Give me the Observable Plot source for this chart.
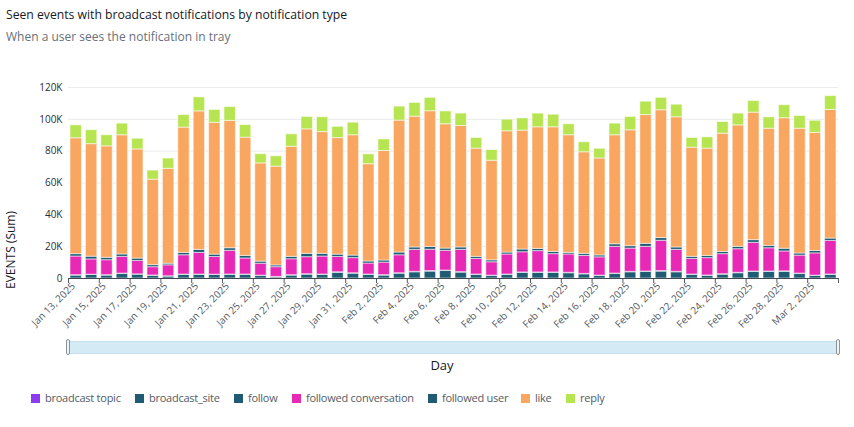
<!DOCTYPE html>
<html>
<head>
<meta charset="utf-8">
<script src="https://cdn.jsdelivr.net/npm/d3@7"></script>
<script src="https://cdn.jsdelivr.net/npm/@observablehq/plot@0.6"></script>
<style>
  html, body { margin: 0; padding: 0; background: #fff; }
  #wrap { position: relative; width: 854px; height: 427px; overflow: hidden; font-family: "Open Sans", "Noto Sans", sans-serif; }
  #title { position: absolute; left: 6px; top: 6px; font-size: 12.2px; color: #16191f; white-space: nowrap; }
  #subtitle { position: absolute; left: 6px; top: 28px; font-size: 12px; color: #687078; white-space: nowrap; }
  #chart { position: absolute; left: 0; top: 55px; }
  #scroll { position: absolute; left: 68px; top: 341px; width: 770px; height: 13px; background: #d4eaf5; border-top: 1px solid #c5e0ee; border-bottom: 1px solid #c5e0ee; box-sizing: border-box; }
  .handle { position: absolute; top: 339px; width: 4px; height: 16px; background: #f2f3f3; border: 1px solid #879596; border-radius: 3px; box-sizing: border-box; }
  #xlabel { position: absolute; left: 0; width: 854px; top: 356px; text-align: center; font-size: 13px; color: #16191f; padding-left: 30px; box-sizing: border-box; }
  .leg { position: absolute; top: 391px; font-size: 11px; letter-spacing: -0.25px; color: #545b64; white-space: nowrap; line-height: 14px; }
  .leg span.sw { display: inline-block; width: 9px; height: 9px; margin-right: 5px; vertical-align: -1px; }
</style>
</head>
<body>
<div id="wrap">
  <div id="title">Seen events with broadcast notifications by notification type</div>
  <div id="subtitle">When a user sees the notification in tray</div>
  <div id="chart"></div>
  <div id="scroll"></div>
  <div class="handle" style="left:66px"></div>
  <div class="handle" style="left:836px"></div>
  <div id="xlabel">Day</div>
  <div id="legend"></div>
</div>
<script>
// ---- data (values in thousands of events) ----
const days = [
  "2025-01-13","2025-01-14","2025-01-15","2025-01-16","2025-01-17","2025-01-18","2025-01-19","2025-01-20","2025-01-21","2025-01-22",
  "2025-01-23","2025-01-24","2025-01-25","2025-01-26","2025-01-27","2025-01-28","2025-01-29","2025-01-30","2025-01-31","2025-02-01",
  "2025-02-02","2025-02-03","2025-02-04","2025-02-05","2025-02-06","2025-02-07","2025-02-08","2025-02-09","2025-02-10","2025-02-11",
  "2025-02-12","2025-02-13","2025-02-14","2025-02-15","2025-02-16","2025-02-17","2025-02-18","2025-02-19","2025-02-20","2025-02-21",
  "2025-02-22","2025-02-23","2025-02-24","2025-02-25","2025-02-26","2025-02-27","2025-02-28","2025-03-01","2025-03-02","2025-03-03"
];
const types = ["broadcast topic", "broadcast_site", "follow", "followed conversation", "followed user", "like", "reply"];
const colors = ["#8d3cf2", "#1f5b72", "#1f5b72", "#e829b6", "#1f5b72", "#f8a660", "#b7e552"];

const broadcastTopic = [0,0,0,0,0,0,0,0,0,0, 0,0,0,0,0,0,0,0,0,0, 0,0,0,0,0,0,0,0,0,0, 0,0,0,0,0,0,0,0,0,0, 0,0,0,0,0,0,0,0,0,0];
const broadcastSite = [1.8,2.2,1.8,2.8,2.4,1.6,1.2,2.2,2.2,2.2, 2.2,2.2,1.6,0.7,1.8,2.4,2.2,3.5,3.0,2.2, 1.8,3.0,3.9,4.3,4.7,3.7,2.2,1.6,2.2,3.5, 3.5,3.5,3.3,2.6,1.6,2.8,3.9,4.1,4.3,3.9, 2.2,1.6,2.4,3.3,4.1,4.1,4.1,2.8,1.6,2.2];
const follow = [0.3,0.2,0.3,0.3,0.2,0.3,0.2,0.3,0.3,0.2, 0.3,0.3,0.2,0.3,0.3,0.3,0.3,0.4,0.3,0.3, 0.3,0.3,0.3,0.4,0.3,0.3,0.3,0.2,0.3,0.3, 0.3,0.3,0.3,0.3,0.2,0.3,0.3,0.3,0.4,0.3, 0.3,0.3,0.3,0.3,0.3,0.3,0.4,0.3,0.2,0.3];
const followedConversation = [11.7,9.6,9.4,10.5,8.4,5.2,6.9,12.1,13.6,11.1, 14.9,10.1,7.5,6.1,10.0,10.7,11.3,9.6,9.5,6.9, 7.9,11.3,13.8,13.4,12.4,14.0,9.8,8.4,12.6,12.7, 13.4,11.5,11.5,11.3,11.5,16.8,14.6,15.5,19.0,13.8, 9.8,10.9,12.6,14.8,18.0,14.6,12.5,11.3,14.0,21.1];
const followedUser = [1.5,1.7,1.5,1.5,1.5,1.3,1.0,1.5,1.9,1.5, 1.6,1.6,1.3,1.1,1.5,2.1,1.7,1.5,1.6,1.3, 1.3,1.7,1.5,1.7,1.4,1.5,1.3,1.2,1.2,1.7, 1.4,1.4,1.0,1.3,1.2,1.6,1.5,1.9,1.7,1.5, 1.3,1.4,1.4,1.5,1.7,1.5,1.7,1.3,1.5,1.5];
const like = [72.8,70.7,70.0,74.9,68.6,53.7,59.6,78.7,87.0,82.8, 80.0,74.3,61.7,62.1,69.2,78.2,76.5,73.2,75.6,61.1, 68.8,82.9,82.2,85.3,78.1,76.3,68.0,62.6,76.2,74.7, 76.4,78.3,73.9,63.8,60.9,68.5,72.8,80.9,80.3,81.8, 68.6,67.4,74.3,76.3,80.1,73.6,82.0,78.4,74.2,80.8];
const reply = [8.1,8.8,7.0,7.3,6.7,5.7,6.5,7.9,8.8,8.1, 8.7,7.9,5.8,6.5,7.8,7.8,9.3,7.1,7.9,6.2, 7.3,8.8,8.6,8.4,8.1,7.8,6.7,6.7,7.3,7.7, 8.6,7.9,6.9,6.3,6.1,7.3,8.4,8.4,7.8,7.9, 6.1,7.1,7.3,7.4,7.3,7.2,8.2,8.0,7.6,8.7];

const yTicks = [0, 20000, 40000, 60000, 80000, 100000, 120000];
const xTickDays = ["2025-01-13","2025-01-15","2025-01-17","2025-01-19","2025-01-21","2025-01-23","2025-01-25","2025-01-27","2025-01-29","2025-01-31",
  "2025-02-02","2025-02-04","2025-02-06","2025-02-08","2025-02-10","2025-02-12","2025-02-14","2025-02-16","2025-02-18","2025-02-20",
  "2025-02-22","2025-02-24","2025-02-26","2025-02-28","2025-03-02"];

// ---- build table ----
const series = [broadcastTopic, broadcastSite, follow, followedConversation, followedUser, like, reply];
const parse = d3.utcParse("%Y-%m-%d");
const table = [];
days.forEach((d, i) => {
  const date = parse(d);
  const next = d3.utcDay.offset(date, 1);
  types.forEach((t, k) => {
    table.push({date, next, type: t, value: series[k][i] * 1000});
  });
});
const start = parse(days[0]);
const end = d3.utcDay.offset(parse(days[days.length - 1]), 1);
const tickDates = xTickDays.map(parse);

const chart = Plot.plot({
  width: 854,
  height: 280,
  marginTop: 32,
  marginBottom: 57,
  marginLeft: 68,
  marginRight: 16,
  style: {fontFamily: "'Open Sans', 'Noto Sans', sans-serif", fontSize: "10px", background: "transparent"},
  x: {type: "utc", domain: [start, end]},
  y: {domain: [0, 120000]},
  color: {domain: types, range: colors},
  marks: [
    Plot.gridY(yTicks, {stroke: "#e9ebed", strokeOpacity: 1}),
    Plot.rectY(table, Plot.stackY({
      x1: "date", x2: "next", y: "value", fill: "type", order: types,
      insetLeft: 2, insetRight: 2, stroke: "white", strokeOpacity: 0.55, strokeWidth: 1
    })),
    Plot.axisY(yTicks, {
      tickSize: 0, tickPadding: 6, label: null, fill: "#2a2e33",
      tickFormat: d => d === 0 ? "0" : (d / 1000) + "K"
    }),
    Plot.axisX(tickDates.concat([end]), {
      tickSize: 5, label: null, stroke: "#545b64", tickFormat: () => ""
    }),
    Plot.axisX(tickDates, {
      tickSize: 0, tickRotate: -45, label: null, fill: "#545b64",
      tickFormat: d3.utcFormat("%b %-d, %Y"), tickPadding: 5, dx: 5, dy: 1
    }),
    Plot.ruleY([0], {stroke: "#414750", strokeWidth: 1.2})
  ]
});
document.getElementById("chart").appendChild(chart);

// y-axis title
d3.select(chart).append("text")
  .attr("transform", "translate(15," + (250 - 55) + ") rotate(-90)")
  .attr("text-anchor", "middle")
  .attr("font-size", "12px")
  .attr("fill", "#16191f")
  .text("EVENTS (Sum)");

// legend
const legX = [31, 135, 234, 292, 428, 521, 566];
const leg = document.getElementById("legend");
types.forEach((t, k) => {
  const div = document.createElement("div");
  div.className = "leg";
  div.style.left = legX[k] + "px";
  div.innerHTML = '<span class="sw" style="background:' + colors[k] + '"></span>' + t;
  leg.appendChild(div);
});
</script>
</body>
</html>
